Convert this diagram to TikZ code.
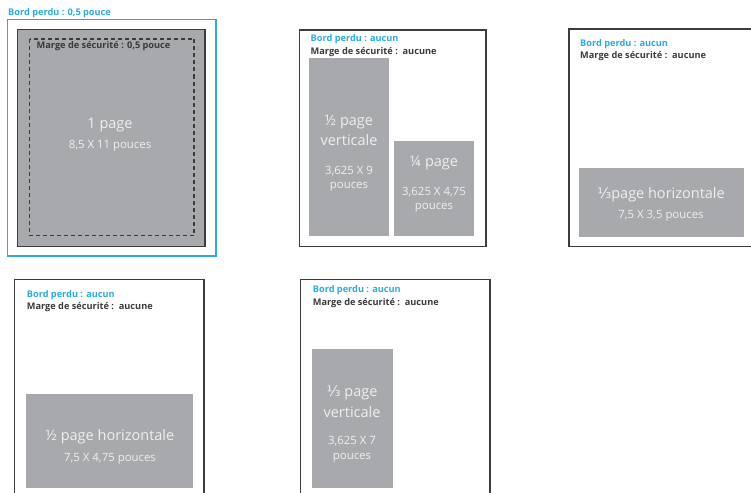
\documentclass[tikz,border=0pt]{standalone}
\usepackage{fontspec}
\setmainfont{Open Sans}
\newfontfamily\fracfont{DejaVu Sans}
\definecolor{bleed}{HTML}{29ABE2}
\definecolor{adgray}{HTML}{A7A9AC}
\definecolor{framec}{HTML}{3C3C3C}
\definecolor{lbl}{HTML}{3A3A3A}
\definecolor{wtxt}{HTML}{EFEFEF}
\begin{document}
\begin{tikzpicture}[x=1pt,y=-1pt,
  frm/.style={draw=framec,line width=1.3pt},
  bleedlbl/.style={text=bleed,font=\fontsize{9.2}{10}\selectfont\bfseries,anchor=west,inner sep=0pt},
  marglbl/.style={text=lbl,font=\fontsize{9.2}{10}\selectfont\bfseries,anchor=west,inner sep=0pt},
  bigtxt/.style={text=wtxt,font=\fontsize{14.5}{16}\selectfont,inner sep=0pt},
  smalltxt/.style={text=wtxt,font=\fontsize{11.4}{13}\selectfont,inner sep=0pt}]
\useasboundingbox (0,0) rectangle (751,492);
% Panel 1
\draw[draw=bleed,line width=1.3pt] (7.5,19.5) rectangle (216,256);
\draw[fill=adgray,draw=framec,line width=1.1pt] (17.5,29.5) rectangle (205,246.5);
\draw[draw=framec,line width=1.1pt,dash pattern=on 4pt off 3pt] (29.5,39) rectangle (194,235.5);
\node[bleedlbl] (b1) at (8,13) {Bord perdu : 0,5 pouce};
\node[marglbl] (m1) at (36.5,46.5) {Marge de sécurité : 0,5 pouce};
\node[bigtxt] (t1a) at (110,125) {1 page};
\node[smalltxt] (t1b) at (110,146) {8,5 X 11 pouces};
% Panel 2
\draw[frm] (299.5,30) rectangle (486,246.5);
\fill[adgray] (309,58) rectangle (389.3,236);
\fill[adgray] (394,141) rectangle (474.3,236);
\node[bleedlbl] (b2) at (310.5,39) {Bord perdu : aucun};
\node[marglbl] (m2) at (310.5,52.3) {Marge de sécurité :\ \ aucune};
\node[bigtxt] (t2a) at (349,122) {½ page};
\node[bigtxt] (t2b) at (349,140) {verticale};
\node[smalltxt] (t2c) at (349,171) {3,625 X 9};
\node[smalltxt] (t2d) at (349,187) {pouces};
\node[bigtxt] (t3a) at (434,163) {¼ page};
\node[smalltxt] (t3b) at (434,192) {3,625 X 4,75};
\node[smalltxt] (t3c) at (434,208) {pouces};
% Panel 3
\draw[frm] (752,29) -- (569,29) -- (569,246.5) -- (752,246.5);
\fill[adgray] (579,168) rectangle (744,236.7);
\node[bleedlbl] (b3) at (580,44) {Bord perdu : aucun};
\node[marglbl] (m3) at (580,55.7) {Marge de sécurité :\ \ aucune};
\node[bigtxt] (t4a) at (661,195) {{\fracfont ⅓}page horizontale};
\node[smalltxt] (t4b) at (661,216) {7,5 X 3,5 pouces};
% Panel 4
\draw[frm] (14.5,493) -- (14.5,279.5) -- (204,279.5) -- (204,493);
\fill[adgray] (26,394) rectangle (193.3,488.3);
\node[bleedlbl] (b4) at (26.7,295) {Bord perdu : aucun};
\node[marglbl] (m4) at (26.7,306.7) {Marge de sécurité :\ \ aucune};
\node[bigtxt] (t5a) at (110,437) {½ page horizontale};
\node[smalltxt] (t5b) at (110,459) {7,5 X 4,75 pouces};
% Panel 5
\draw[frm] (300.7,493) -- (300.7,279.5) -- (490,279.5) -- (490,493);
\fill[adgray] (311.7,349) rectangle (393.3,488.3);
\node[bleedlbl] (b5) at (312.7,290) {Bord perdu : aucun};
\node[marglbl] (m5) at (312.7,302.7) {Marge de sécurité :\ \ aucune};
\node[bigtxt] (t6a) at (352,393) {{\fracfont ⅓} page};
\node[bigtxt] (t6b) at (352,412) {verticale};
\node[smalltxt] (t6c) at (352,441) {3,625 X 7};
\node[smalltxt] (t6d) at (352,458) {pouces};
\end{tikzpicture}
\end{document}
